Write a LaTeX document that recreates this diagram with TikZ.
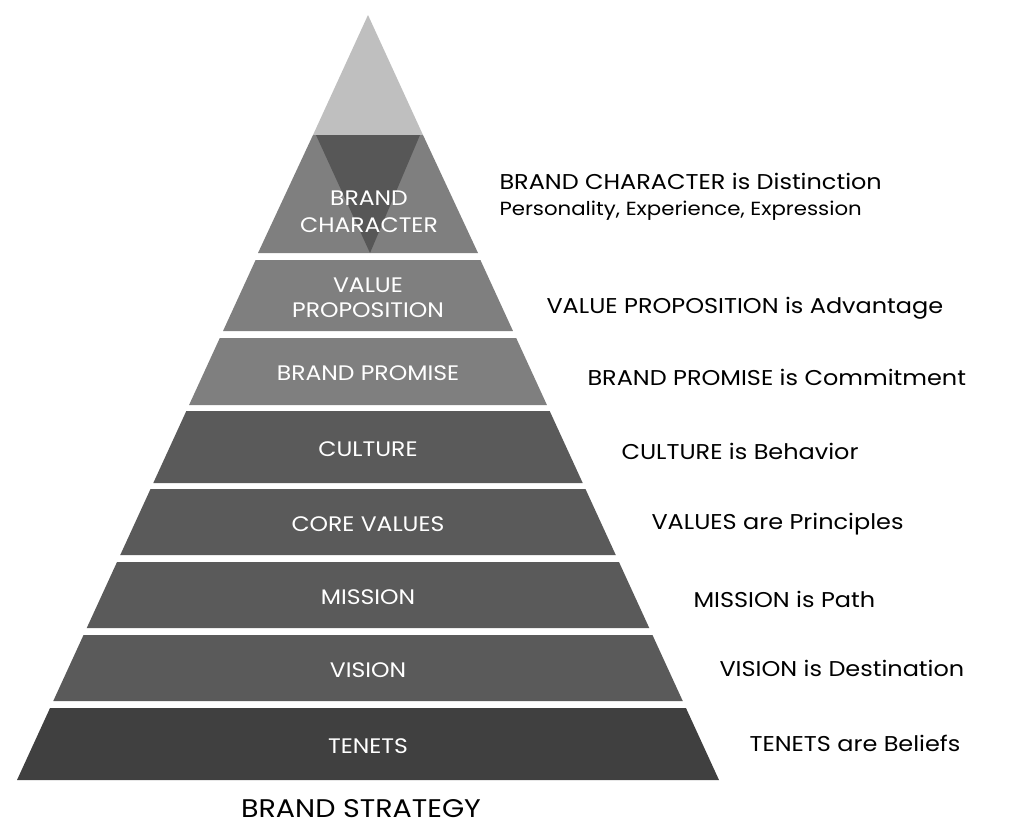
\documentclass[tikz,border=0pt]{standalone}
\usepackage{fontspec}
\setmainfont{Poppins}[FakeStretch=1.12]
\definecolor{topgray}{HTML}{BFBFBF}
\definecolor{midgray}{HTML}{7F7F7F}
\definecolor{darkgray}{HTML}{5A5A5A}
\definecolor{deepgray}{HTML}{404040}
\definecolor{wedgegray}{HTML}{575757}
\begin{document}
\begin{tikzpicture}[x=1pt, y=-1pt,
    tier/.style={text=white, align=center, font=\fontsize{21}{25}\selectfont},
    note/.style={anchor=west, align=left, font=\fontsize{21.4}{26}\selectfont}]
    \useasboundingbox (0,0) rectangle (1024,833);
    % apex and brand character
    \fill[topgray] (368,15) -- (313,135) -- (423,135) -- cycle;
    \fill[midgray] (313,135) -- (423,135) -- (478,253) -- (258,253) -- cycle;
    \fill[wedgegray] (316,135) -- (420,135) -- (370,253) -- cycle;
    \node[tier, font=\fontsize{21}{27}\selectfont] (char) at (369,212) {BRAND\\CHARACTER};
    \node[note] (charnote) at (496,197) {BRAND CHARACTER is Distinction\\{\fontsize{19}{26}\selectfont Personality, Experience, Expression}};
    % lower tiers
    \foreach \a/\b/\c/\n/\lab/\nx/\ny/\txt in {
        260/331/midgray/value/{VALUE\\PROPOSITION}/543/308/{VALUE PROPOSITION is Advantage},
        338/405/midgray/promise/{BRAND PROMISE}/584/377/{BRAND PROMISE is Commitment},
        411/483/darkgray/culture/{CULTURE}/618/451/{CULTURE is Behavior},
        489/555/darkgray/values/{CORE VALUES}/648/524/{VALUES are Principles},
        562/628/darkgray/mission/{MISSION}/690/599/{MISSION is Path},
        635/701/darkgray/vision/{VISION}/716/668/{VISION is Destination},
        708/780/deepgray/tenets/{TENETS}/746/743/{TENETS are Beliefs}} {
        \pgfmathsetmacro\wa{0.45882*(\a-15)}
        \pgfmathsetmacro\wb{0.45882*(\b-15)}
        \fill[\c] ({368-\wa},\a) -- ({368+\wa},\a) -- ({368+\wb},\b) -- ({368-\wb},\b) -- cycle;
        \node[tier] (\n) at (368,{(\a+\b)/2+2}) {\lab};
        \node[note] (\n note) at (\nx,\ny) {\txt};
    }
    \node[font=\fontsize{25.5}{30}\selectfont] (strategy) at (361,809) {BRAND STRATEGY};
\end{tikzpicture}
\end{document}
